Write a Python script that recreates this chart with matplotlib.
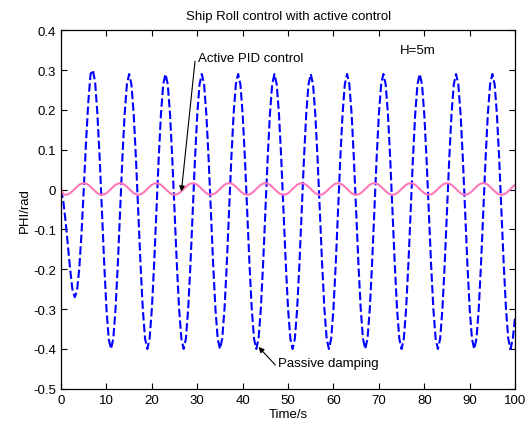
import numpy as np
import matplotlib
matplotlib.use('Agg')
import matplotlib.pyplot as plt
from matplotlib.ticker import FuncFormatter

plt.rcParams['font.family'] = ['Liberation Sans', 'DejaVu Sans']

# time axis, sampled every 0.5 s from 0 to 100 s
time = np.arange(0, 100.5, 0.5)

# passive damping (blue dashed)
passive = [0.0, -0.03, -0.08, -0.14, -0.20, -0.25, -0.27, -0.255,
           -0.20, -0.11, 0.0, 0.12, 0.22, 0.29, 0.30, 0.27,
           0.19, 0.08, -0.05, -0.185, -0.30, -0.375, -0.40]
passive += [-0.374, -0.299, -0.187, -0.055, 0.077, 0.189, 0.264, 0.290,
            0.264, 0.189, 0.077, -0.055, -0.187, -0.299, -0.374, -0.400] * 11
passive += [-0.374, -0.32]

# active PID control (pink)
active = [0.0, -0.012]
active += [-0.013, -0.012, -0.009, -0.004, 0.0015, 0.007, 0.012, 0.015,
           0.016, 0.015, 0.012, 0.007, 0.0015, -0.004, -0.009, -0.012] * 12
active += [-0.013, -0.012, -0.009, -0.004, 0.0015, 0.007, 0.012]

xticks = list(range(0, 101, 10))
yticks = [-0.5, -0.4, -0.3, -0.2, -0.1, 0, 0.1, 0.2, 0.3, 0.4]

fs = 9.5
fig = plt.figure(figsize=(5.31, 4.27), dpi=100)
ax = fig.add_axes([0.115, 0.087, 0.855, 0.840])

ax.plot(time, passive, color='#0000ff', linewidth=1.5,
        linestyle=(0, (4, 1.6)))
ax.plot(time, active, color='#ff77bb', linewidth=1.5)

ax.set_xlim(0, 100)
ax.set_ylim(-0.5, 0.4)
ax.set_xticks(xticks)
ax.set_yticks(yticks)
ax.yaxis.set_major_formatter(FuncFormatter(lambda v, p: '%g' % round(v, 2)))
ax.tick_params(direction='in', top=True, right=True, length=4,
               labelsize=fs, width=0.8)
for s in ax.spines.values():
    s.set_linewidth(0.9)

ax.set_title('Ship Roll control with active control', fontsize=fs, pad=8)
ax.set_xlabel('Time/s', fontsize=fs, labelpad=2)
ax.set_ylabel('PHI/rad', fontsize=fs, labelpad=2)

ax.annotate('Active PID control', xy=(26.5, -0.005), xytext=(30.2, 0.331),
            fontsize=fs, va='center', ha='left',
            arrowprops=dict(arrowstyle='-|>', color='black', lw=0.8,
                            mutation_scale=8, shrinkA=0, shrinkB=0,
                            relpos=(-0.03, 0.2)))
ax.annotate('Passive damping', xy=(43.5, -0.395), xytext=(47.8, -0.436),
            fontsize=fs, va='center', ha='left',
            arrowprops=dict(arrowstyle='-|>', color='black', lw=0.8,
                            mutation_scale=8, shrinkA=0, shrinkB=0,
                            relpos=(-0.02, 0.3)))
ax.text(74.6, 0.351, 'H=5m', fontsize=fs, va='center', ha='left')

fig.savefig('out.png', dpi=100)
